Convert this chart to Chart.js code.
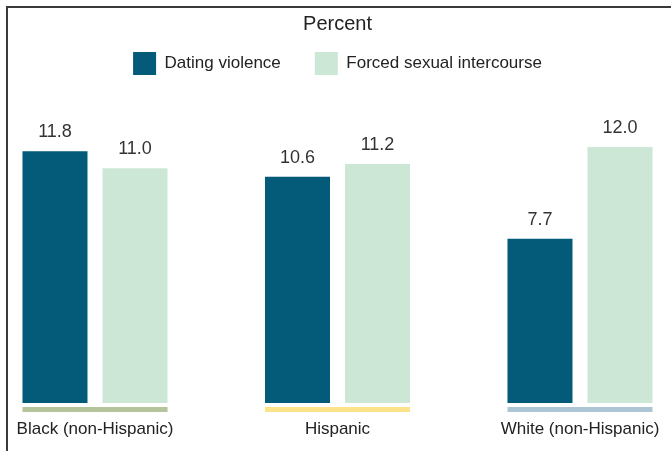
<!DOCTYPE html>
<html>
<head>
<meta charset="utf-8">
<script src="https://cdn.jsdelivr.net/npm/chart.js@4/dist/chart.umd.min.js"></script>
<style>
  html, body { margin: 0; padding: 0; background: #fff; }
  #wrap { position: relative; width: 671px; height: 451px; }
  #chart { position: absolute; left: 0; top: 0; }
  #frame {
    position: absolute; left: 6px; top: 6px; width: 670px; height: 450px;
    border-left: 2px solid #3a3a3a; border-top: 2px solid #3a3a3a;
    pointer-events: none;
  }
</style>
</head>
<body>
<div id="wrap">
  <canvas id="chart" width="671" height="451"></canvas>
  <div id="frame"></div>
</div>
<script>
const categories = ['Black (non-Hispanic)', 'Hispanic', 'White (non-Hispanic)'];
const datingViolence = [11.8, 10.6, 7.7];
const forcedIntercourse = [11.0, 11.2, 12.0];
const underlineColors = ['#b5c49a', '#fce38b', '#aec6d4'];

const font = "'Liberation Sans', Arial, Helvetica, sans-serif";

// value labels above each bar
const valueLabels = {
    id: 'valueLabels',
    afterDatasetsDraw(chart) {
        const ctx = chart.ctx;
        ctx.save();
        ctx.font = `18px ${font}`;
        ctx.fillStyle = '#333';
        ctx.textAlign = 'center';
        ctx.textBaseline = 'bottom';
        chart.data.datasets.forEach((ds, di) => {
            chart.getDatasetMeta(di).data.forEach((bar, i) => {
                ctx.fillText(ds.data[i].toFixed(1), bar.x, bar.y - 10);
            });
        });
        ctx.restore();
    }
};

// coloured strip under each group
const groupUnderline = {
    id: 'groupUnderline',
    afterDatasetsDraw(chart) {
        const ctx = chart.ctx;
        const first = chart.getDatasetMeta(0).data;
        const last = chart.getDatasetMeta(1).data;
        const y = chart.chartArea.bottom + 4;
        ctx.save();
        first.forEach((bar, i) => {
            const left = bar.x - bar.width / 2;
            const right = last[i].x + last[i].width / 2;
            ctx.fillStyle = underlineColors[i];
            ctx.fillRect(left, y, right - left, 5);
        });
        ctx.restore();
    }
};

new Chart(document.getElementById('chart'), {
    type: 'bar',
    data: {
        labels: categories,
        datasets: [
            {
                label: 'Dating violence',
                data: datingViolence,
                backgroundColor: '#045a79',
                clip: false,
            },
            {
                label: 'Forced sexual intercourse',
                data: forcedIntercourse,
                backgroundColor: '#cde7d7',
                clip: false,
            }
        ]
    },
    options: {
        responsive: false,
        animation: false,
        categoryPercentage: 0.66,
        barPercentage: 0.8125,
        layout: {
            padding: { left: 95, right: 91, top: 0, bottom: 0 }
        },
        plugins: {
            title: {
                display: true,
                text: 'Percent',
                color: '#222',
                font: { family: font, size: 20, weight: 'normal' },
                padding: { top: 12, bottom: -18 }
            },
            legend: {
                position: 'top',
                labels: {
                    boxWidth: 23,
                    boxHeight: 23,
                    padding: 34,
                    color: '#222',
                    font: { family: font, size: 17 }
                }
            },
            tooltip: { enabled: false }
        },
        scales: {
            x: {
                offset: false,
                grid: { display: false, drawTicks: false },
                border: { display: false },
                afterFit: (scale) => {
                    scale.height = 48;
                    scale.paddingLeft = 0;
                    scale.paddingRight = 0;
                },
                ticks: {
                    color: '#222',
                    padding: 16,
                    maxRotation: 0,
                    autoSkip: false,
                    font: { family: font, size: 17 }
                }
            },
            y: {
                display: false,
                min: 0,
                max: 14.9
            }
        }
    },
    plugins: [valueLabels, groupUnderline]
});
</script>
</body>
</html>
